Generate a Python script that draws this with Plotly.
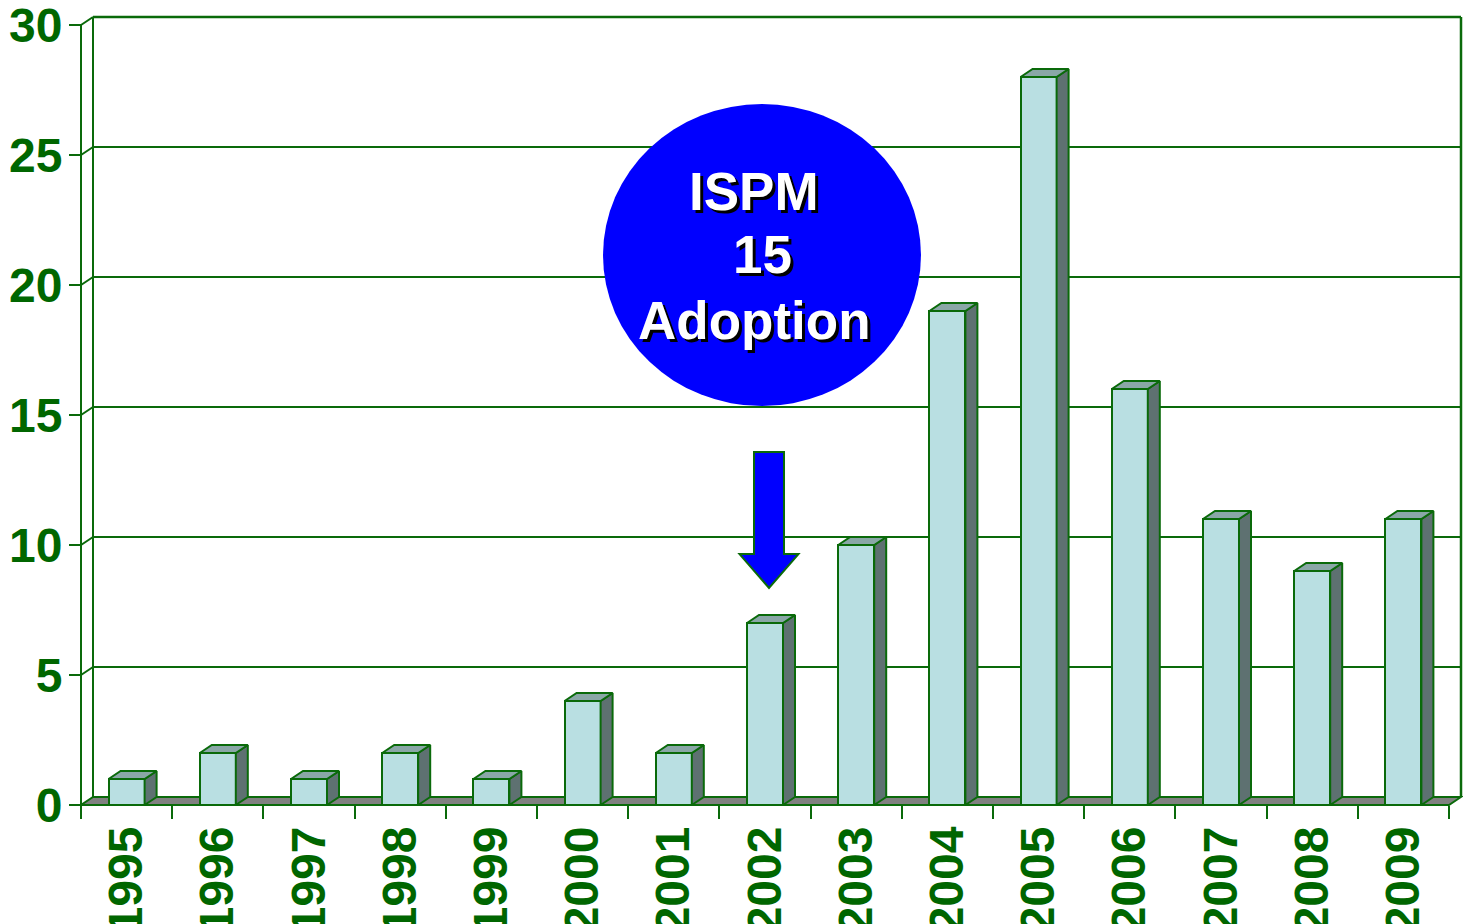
import plotly.graph_objects as go

# ---------------- data ----------------
years = ["1995", "1996", "1997", "1998", "1999", "2000", "2001", "2002",
         "2003", "2004", "2005", "2006", "2007", "2008", "2009"]
counts = [1, 2, 1, 2, 1, 4, 2, 7, 10, 19, 28, 16, 11, 9, 11]
y_tick_values = [0, 5, 10, 15, 20, 25, 30]
callout_lines = ["ISPM", "15", "Adoption"]
callout_year = "2002"

# ---------------- style / geometry ----------------
GREEN_TEXT = "#006600"
GREEN_LINE = "#0a6a0a"
FRONT = "#B9DFE2"
SIDE = "#5E7171"
TOP = "#8AA7A7"
FLOOR = "#808080"
BLUE = "#0000FF"
FONT = "Liberation Sans, Arial, sans-serif"

W, H = 1465, 924
FRONT_LEFT_PX = 81       # front-plane origin in figure pixels
FRONT_BOTTOM_PX = 805
PAD = 4
ML, MR, MT = FRONT_LEFT_PX - PAD, 2, 10
MB = H - (FRONT_BOTTOM_PX + PAD)
PX_PER_CAT = 91.2
PX_PER_UNIT = 26.0
DEPTH_X_PX, DEPTH_Y_PX = 12, 8
BAR_PX = 36

n = len(years)
xs = list(range(n))
plot_w = W - ML - MR
plot_h = H - MT - MB
x_range = [-0.5 - PAD / PX_PER_CAT, -0.5 - PAD / PX_PER_CAT + plot_w / PX_PER_CAT]
y_range = [-PAD / PX_PER_UNIT, -PAD / PX_PER_UNIT + plot_h / PX_PER_UNIT]
dx = DEPTH_X_PX / PX_PER_CAT
dy = DEPTH_Y_PX / PX_PER_UNIT
bw = BAR_PX / PX_PER_CAT
x_lo, x_hi = -0.5, n - 0.5
y_top = max(y_tick_values)

fig = go.Figure()

# ---------------- walls, gridlines, floor (shapes below traces) ----------------
shapes = []
line = dict(color=GREEN_LINE, width=2)
for k in y_tick_values[1:]:
    shapes.append(dict(type="line", xref="x", yref="y", layer="below",
                       x0=x_lo + dx, x1=x_hi + dx, y0=k + dy, y1=k + dy,
                       line=dict(color=GREEN_LINE, width=2.5 if k == y_top else 2)))
shapes.append(dict(type="line", xref="x", yref="y", layer="below",
                   x0=x_lo, x1=x_lo, y0=0, y1=y_top, line=line))
shapes.append(dict(type="line", xref="x", yref="y", layer="below",
                   x0=x_lo + dx, x1=x_lo + dx, y0=dy, y1=y_top + dy, line=line))
for k in y_tick_values[1:]:
    shapes.append(dict(type="line", xref="x", yref="y", layer="below",
                       x0=x_lo, x1=x_lo + dx, y0=k, y1=k + dy, line=line))
shapes.append(dict(type="line", xref="x", yref="y", layer="below",
                   x0=x_hi + dx, x1=x_hi + dx, y0=dy, y1=y_top + dy,
                   line=dict(color=GREEN_LINE, width=2.5)))
shapes.append(dict(type="path", xref="x", yref="y", layer="below",
                   path=f"M{x_lo},0 L{x_hi},0 L{x_hi+dx},{dy} L{x_lo+dx},{dy} Z",
                   fillcolor=FLOOR, line=line))

# ---------------- bars ----------------
fig.add_trace(go.Bar(x=xs, y=counts, width=bw,
                     marker=dict(color=FRONT, line=dict(color=GREEN_LINE, width=2)),
                     hoverinfo="skip"))

sx, sy, tx, ty = [], [], [], []
for x, v in zip(xs, counts):
    l, r = x - bw / 2, x + bw / 2
    sx += [r, r + dx, r + dx, r, r, None]
    sy += [0, dy, v + dy, v, 0, None]
    tx += [l, r, r + dx, l + dx, l, None]
    ty += [v, v, v + dy, v + dy, v, None]
fig.add_trace(go.Scatter(x=sx, y=sy, mode="lines", fill="toself", fillcolor=SIDE,
                         line=dict(color=GREEN_LINE, width=2), hoverinfo="skip"))
fig.add_trace(go.Scatter(x=tx, y=ty, mode="lines", fill="toself", fillcolor=TOP,
                         line=dict(color=GREEN_LINE, width=2), hoverinfo="skip"))

# ---------------- callout: circle + arrow ----------------
ci = years.index(callout_year)
cv = counts[ci]
circ_cx = ci - 0.033
circ_cy = 21.15
circ_rx = 159 / PX_PER_CAT
circ_ry = 151 / PX_PER_UNIT
shapes.append(dict(type="circle", xref="x", yref="y", layer="above",
                   x0=circ_cx - circ_rx, x1=circ_cx + circ_rx,
                   y0=circ_cy - circ_ry, y1=circ_cy + circ_ry,
                   fillcolor=BLUE, line=dict(width=0)))

ax_c = ci + 0.044
shaft_hw = 15 / PX_PER_CAT
head_hw = 29.5 / PX_PER_CAT
a_top, a_head, a_tip = 13.58, 9.65, cv + 1.35
shapes.append(dict(type="path", xref="x", yref="y", layer="above",
                   path=(f"M{ax_c-shaft_hw},{a_top} L{ax_c+shaft_hw},{a_top} "
                         f"L{ax_c+shaft_hw},{a_head} L{ax_c+head_hw},{a_head} "
                         f"L{ax_c},{a_tip} L{ax_c-head_hw},{a_head} "
                         f"L{ax_c-shaft_hw},{a_head} Z"),
                   fillcolor=BLUE, line=dict(color=GREEN_LINE, width=2)))

text_pos = [(ci - 0.12, 23.59), (ci - 0.03, 21.19), (ci - 0.12, 18.64)]
annotations = []
for txt, (tx_, ty_) in zip(callout_lines, text_pos):
    annotations.append(dict(x=tx_, y=ty_, xref="x", yref="y", text=txt,
                            showarrow=False, xanchor="center", yanchor="middle",
                            font=dict(family=FONT, size=53, color="white",
                                      weight="bold", shadow="3px 3px 0px black")))

# ---------------- layout ----------------
tick_font = dict(family=FONT, size=48, color=GREEN_TEXT, weight="bold")
fig.update_layout(
    width=W, height=H,
    margin=dict(l=ML, r=MR, t=MT, b=MB, autoexpand=False),
    paper_bgcolor="white", plot_bgcolor="white",
    showlegend=False,
    shapes=shapes, annotations=annotations,
    bargap=0,
    xaxis=dict(range=x_range, tickmode="array", tickvals=xs, ticktext=years,
               tickangle=-90, ticks="", showgrid=False, zeroline=False,
               showline=False, tickfont=tick_font, automargin=False,
               anchor="free", position=PAD / plot_h, ticklabelstandoff=11,
               ticklabeloverflow="allow",
               minor=dict(tickmode="array",
                          tickvals=[i - 0.5 for i in range(n + 1)],
                          ticks="outside", ticklen=13, tickwidth=2,
                          tickcolor=GREEN_LINE, showgrid=False)),
    yaxis=dict(range=y_range, tickmode="array", tickvals=y_tick_values,
               ticks="outside", ticklen=12, tickwidth=2, tickcolor=GREEN_LINE,
               showgrid=False, zeroline=False, showline=False,
               tickfont=tick_font, automargin=False, ticklabelstandoff=-3,
               ticklabeloverflow="allow",
               anchor="free", position=PAD / plot_w),
)

fig.write_html(
    "out.html",
    config={"displayModeBar": False},
    post_script="document.body.style.margin='0px';document.body.style.overflow='hidden';",
)
